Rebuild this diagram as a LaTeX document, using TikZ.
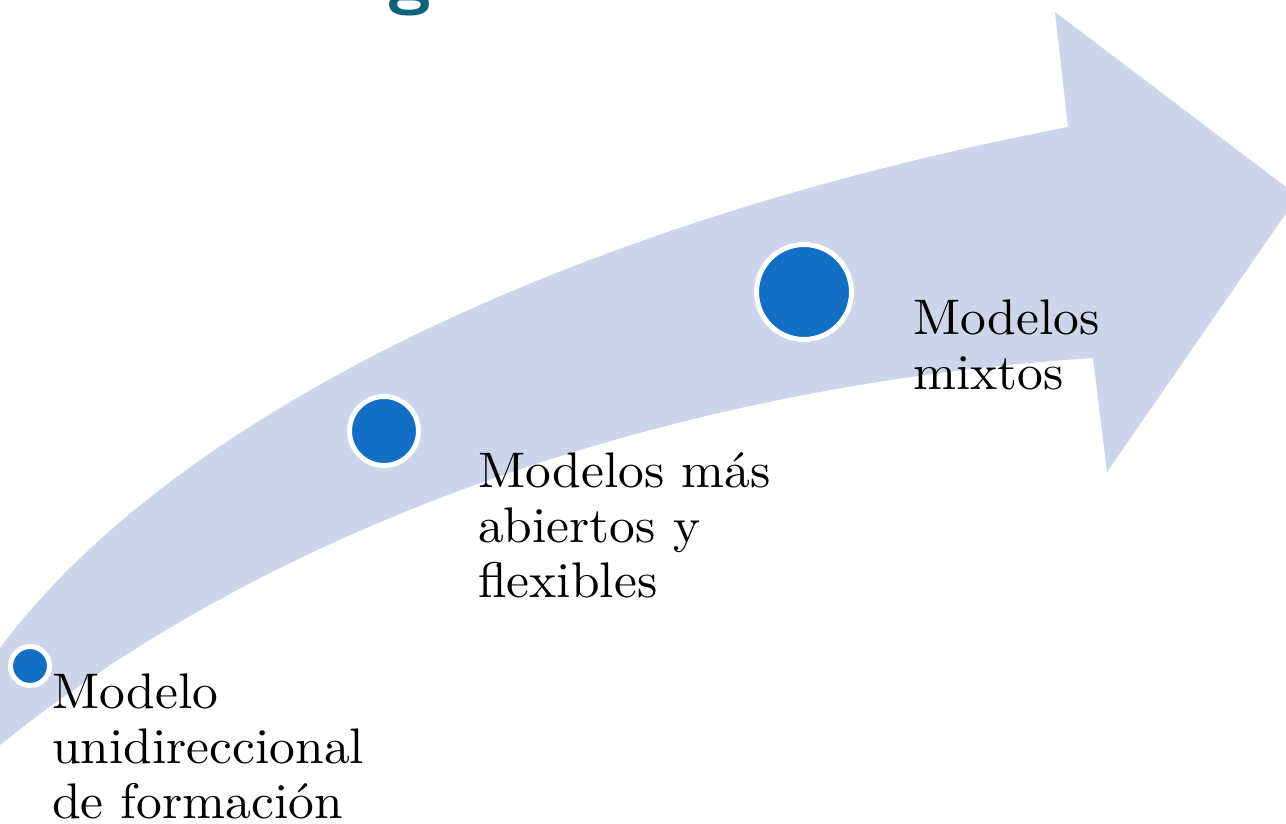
\documentclass[tikz,border=0pt]{standalone}
\usepackage{fontspec}
\newfontfamily\labfont{lmroman10-regular}[Extension=.otf,FakeStretch=1.03]
\definecolor{band}{HTML}{CDD5EA}
\definecolor{dot}{HTML}{1170C6}
\definecolor{teal}{HTML}{0B6479}
\begin{document}
\begin{tikzpicture}[x=1pt,y=-1pt,
  dotstyle/.style={circle,fill=dot,draw=white,line width=5pt,inner sep=0pt},
  label/.style={anchor=base west,align=left,inner sep=0pt,font=\labfont\fontsize{50}{55}\selectfont}]
\useasboundingbox (0,0) rectangle (1286,824);
\fill[band] (0,648) .. controls (170,420) and (560,225) .. (1068,127)
  -- (1055,12) -- (1298,196) -- (1107,472) -- (1093,358)
  .. controls (680,385) and (280,520) .. (0,745) -- cycle;
\node[anchor=base west,inner sep=0pt,text=teal,font=\fontsize{80}{80}\sffamily\bfseries] (title) at (387,0) {g};
\node[dotstyle,minimum size=39pt] (d1) at (30,666) {};
\node[dotstyle,minimum size=69pt] (d2) at (384,431) {};
\node[dotstyle,minimum size=95pt] (d3) at (804,292) {};
\node[label] (t1) at (52,818) {Modelo\\unidireccional\\de formación};
\node[label] (t2) at (478,597) {Modelos más\\abiertos y\\flexibles};
\node[label] (t3) at (913,389) {Modelos\\mixtos};
\end{tikzpicture}
\end{document}
